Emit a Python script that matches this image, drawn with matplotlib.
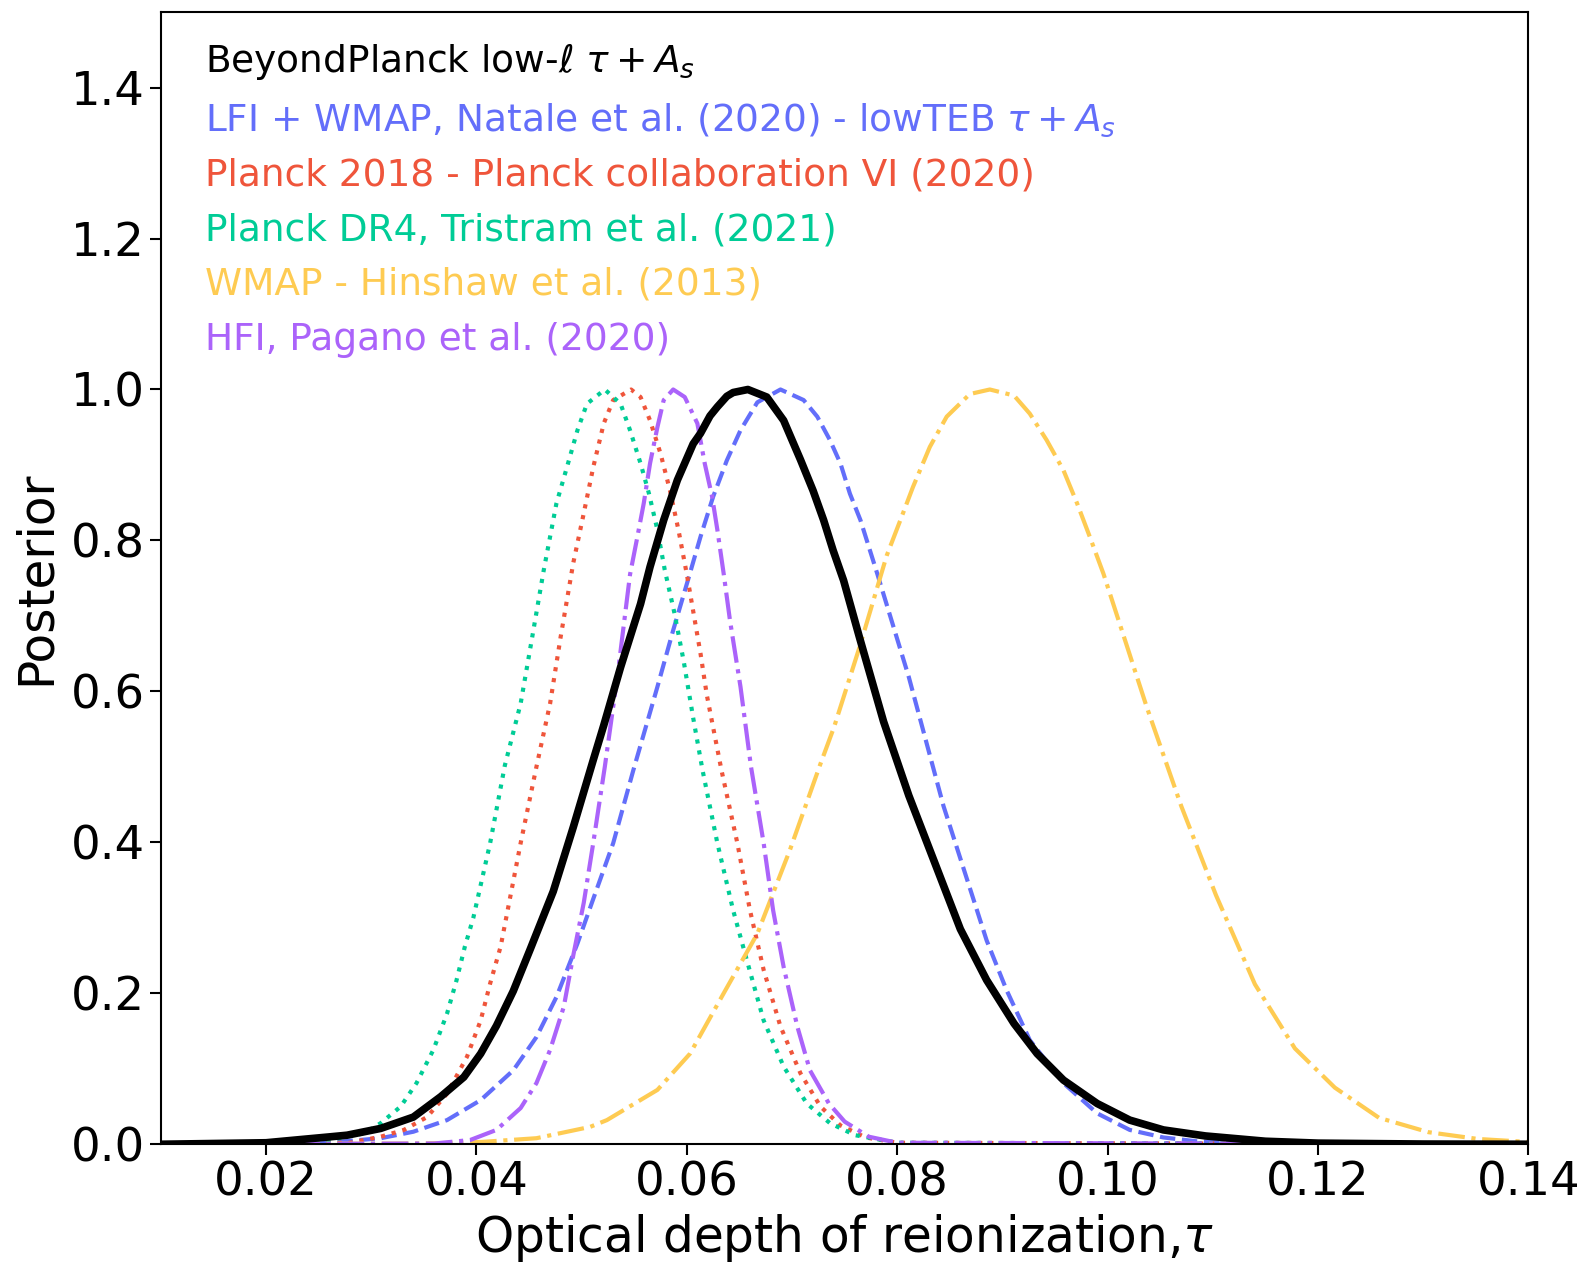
import matplotlib
matplotlib.use("Agg")
import matplotlib.pyplot as plt

# values (tau, normalised posterior)
bp_tau = [0.010, 0.020, 0.0262, 0.0277, 0.0309, 0.0340, 0.0366, 0.0388, 0.0404, 0.0419,
          0.0435, 0.0451, 0.0473, 0.0492, 0.0511, 0.0521, 0.0537, 0.0556, 0.0565, 0.0578,
          0.0591, 0.0606, 0.0613, 0.0622, 0.0629, 0.0638, 0.0644, 0.0658, 0.0676, 0.0692,
          0.0708, 0.0720, 0.0730, 0.0739, 0.0749, 0.0764, 0.0787, 0.0811, 0.0860, 0.0885,
          0.0911, 0.0933, 0.0958, 0.0990, 0.1021, 0.1053, 0.1093, 0.1150, 0.1200, 0.1300,
          0.1400]
bp_post = [0.0, 0.002, 0.010, 0.012, 0.021, 0.036, 0.063, 0.089, 0.120, 0.157,
           0.203, 0.258, 0.335, 0.420, 0.509, 0.555, 0.632, 0.716, 0.765, 0.827,
           0.880, 0.928, 0.942, 0.965, 0.977, 0.991, 0.996, 1.0, 0.990, 0.959,
           0.907, 0.866, 0.827, 0.787, 0.747, 0.672, 0.560, 0.462, 0.285, 0.2175,
           0.160, 0.120, 0.085, 0.054, 0.032, 0.019, 0.011, 0.004, 0.0015, 0.0003,
           0.0]

lfi_tau = [0.010, 0.025, 0.0309, 0.0340, 0.0372, 0.0404, 0.0435, 0.0457, 0.0476, 0.0496,
           0.0511, 0.0530, 0.0549, 0.0572, 0.0587, 0.0602, 0.0613, 0.0625, 0.0638, 0.0651,
           0.0667, 0.0689, 0.0711, 0.0724, 0.0736, 0.0746, 0.0755, 0.0765, 0.0774, 0.0781,
           0.0811, 0.0844, 0.0885, 0.0904, 0.0926, 0.0958, 0.0990, 0.1021, 0.1053, 0.1084,
           0.1130, 0.1400]
lfi_post = [0.0, 0.001, 0.008, 0.0166, 0.032, 0.0585, 0.098, 0.142, 0.195, 0.266,
            0.325, 0.399, 0.495, 0.606, 0.681, 0.752, 0.805, 0.858, 0.906, 0.946,
            0.983, 1.0, 0.986, 0.964, 0.933, 0.902, 0.862, 0.827, 0.787, 0.756,
            0.619, 0.448, 0.270, 0.204, 0.138, 0.081, 0.041, 0.019, 0.009, 0.004,
            0.001, 0.0]

pl18_tau = [0.010, 0.028, 0.0309, 0.0331, 0.0353, 0.0372, 0.0391, 0.0404, 0.0413, 0.0423,
            0.0442, 0.0457, 0.0470, 0.0480, 0.0492, 0.0502, 0.0511, 0.0521, 0.0530, 0.0547,
            0.0556, 0.0565, 0.0575, 0.0584, 0.0592, 0.0600, 0.0613, 0.0619, 0.0633, 0.0648,
            0.0660, 0.0673, 0.0689, 0.0708, 0.0727, 0.0746, 0.0770, 0.0800, 0.1400]
pl18_post = [0.0, 0.002, 0.010, 0.019, 0.036, 0.067, 0.116, 0.164, 0.213, 0.262,
             0.399, 0.500, 0.584, 0.672, 0.770, 0.836, 0.897, 0.955, 0.986, 1.0,
             0.990, 0.959, 0.915, 0.866, 0.814, 0.755, 0.650, 0.595, 0.495, 0.399,
             0.310, 0.231, 0.156, 0.094, 0.050, 0.025, 0.009, 0.002, 0.0]

dr4_tau = [0.010, 0.025, 0.0293, 0.0309, 0.0328, 0.0343, 0.0359, 0.0372, 0.0381, 0.0389,
           0.0397, 0.0413, 0.0427, 0.0442, 0.0453, 0.0464, 0.0476, 0.0486, 0.0496, 0.0505,
           0.0522, 0.0537, 0.0546, 0.0556, 0.0564, 0.0572, 0.0579, 0.0588, 0.0597, 0.0606,
           0.0615, 0.0629, 0.0644, 0.0657, 0.0673, 0.0692, 0.0714, 0.0736, 0.0760, 0.0800,
           0.1400]
dr4_post = [0.0, 0.003, 0.0144, 0.028, 0.050, 0.081, 0.125, 0.173, 0.217, 0.262,
            0.300, 0.399, 0.502, 0.584, 0.672, 0.761, 0.849, 0.897, 0.946, 0.981,
            1.0, 0.981, 0.946, 0.902, 0.862, 0.814, 0.761, 0.705, 0.640, 0.565,
            0.495, 0.399, 0.310, 0.244, 0.164, 0.103, 0.054, 0.028, 0.012, 0.002,
            0.0]

wmap_tau = [0.010, 0.035, 0.0404, 0.0457, 0.0508, 0.0524, 0.0572, 0.0603, 0.0635, 0.0667,
            0.0698, 0.0727, 0.0740, 0.0764, 0.0790, 0.0803, 0.0815, 0.0831, 0.0847, 0.0869,
            0.0888, 0.0911, 0.0926, 0.0942, 0.0958, 0.0971, 0.0983, 0.0996, 0.1037, 0.1070,
            0.1103, 0.1140, 0.1178, 0.1216, 0.1258, 0.1305, 0.1352, 0.1400]
wmap_post = [0.0, 0.001, 0.003, 0.008, 0.023, 0.032, 0.072, 0.120, 0.200, 0.279,
             0.390, 0.504, 0.553, 0.658, 0.780, 0.827, 0.871, 0.924, 0.964, 0.994,
             1.0, 0.992, 0.968, 0.933, 0.893, 0.849, 0.805, 0.756, 0.580, 0.448,
             0.330, 0.212, 0.127, 0.075, 0.035, 0.016, 0.007, 0.003]

hfi_tau = [0.010, 0.036, 0.0394, 0.0419, 0.0442, 0.0457, 0.0470, 0.0483, 0.0492, 0.0502,
           0.0511, 0.0522, 0.0534, 0.0546, 0.0553, 0.0559, 0.0565, 0.0572, 0.0578, 0.0587,
           0.0598, 0.0610, 0.0617, 0.0624, 0.0629, 0.0635, 0.0641, 0.0651, 0.0661, 0.0673,
           0.0682, 0.0692, 0.0705, 0.0717, 0.0735, 0.0750, 0.0773, 0.0800, 0.1400]
hfi_post = [0.0, 0.001, 0.0056, 0.019, 0.048, 0.081, 0.125, 0.182, 0.250, 0.320,
            0.399, 0.500, 0.620, 0.755, 0.805, 0.849, 0.902, 0.950, 0.986, 1.0,
            0.990, 0.955, 0.902, 0.858, 0.814, 0.756, 0.694, 0.606, 0.500, 0.399,
            0.310, 0.235, 0.156, 0.098, 0.054, 0.030, 0.010, 0.002, 0.0]

labels = [r'BeyondPlanck low-$\ell$ $\tau + A_s$',
          r'LFI + WMAP, Natale et al. (2020) - lowTEB $\tau + A_s$',
          'Planck 2018 - Planck collaboration VI (2020)',
          'Planck DR4, Tristram et al. (2021)',
          'WMAP - Hinshaw et al. (2013)',
          'HFI, Pagano et al. (2020)']

fig = plt.figure(figsize=(15.85, 12.62), dpi=100)
ax = fig.add_axes([0.1015, 0.0933, 0.8628, 0.8971])

ax.plot(bp_tau, bp_post, color='black', lw=5.5, label=labels[0], zorder=5,
        solid_joinstyle='round')
ax.plot(lfi_tau, lfi_post, color='#636EFA', lw=3, ls='--', label=labels[1])
ax.plot(pl18_tau, pl18_post, color='#EF553B', lw=3, ls=':', label=labels[2])
ax.plot(dr4_tau, dr4_post, color='#00CC96', lw=3, ls=':', label=labels[3])
ax.plot(wmap_tau, wmap_post, color='#FECB52', lw=3, ls='-.', label=labels[4])
ax.plot(hfi_tau, hfi_post, color='#AB63FA', lw=3, ls='-.', label=labels[5])

ax.set_xlim(0.01, 0.14)
ax.set_ylim(0, 1.5)
ax.set_xticks([0.02, 0.04, 0.06, 0.08, 0.10, 0.12, 0.14])
ax.set_yticks([0.0, 0.2, 0.4, 0.6, 0.8, 1.0, 1.2, 1.4])
ax.tick_params(labelsize=33.5, length=8, width=1.5)
for s in ax.spines.values():
    s.set_linewidth(1.5)

ax.set_xlabel(r'Optical depth of reionization,$\tau$', fontsize=35, labelpad=5)
ax.set_ylabel('Posterior', fontsize=35, labelpad=7.5)

leg = ax.legend(loc='upper left', bbox_to_anchor=(0.0073, 1.004), frameon=False,
                handlelength=0, handletextpad=0, labelcolor='linecolor',
                fontsize=27, labelspacing=0.5)
for h in leg.legend_handles:
    h.set_visible(False)

fig.savefig('out.png', dpi=100)
